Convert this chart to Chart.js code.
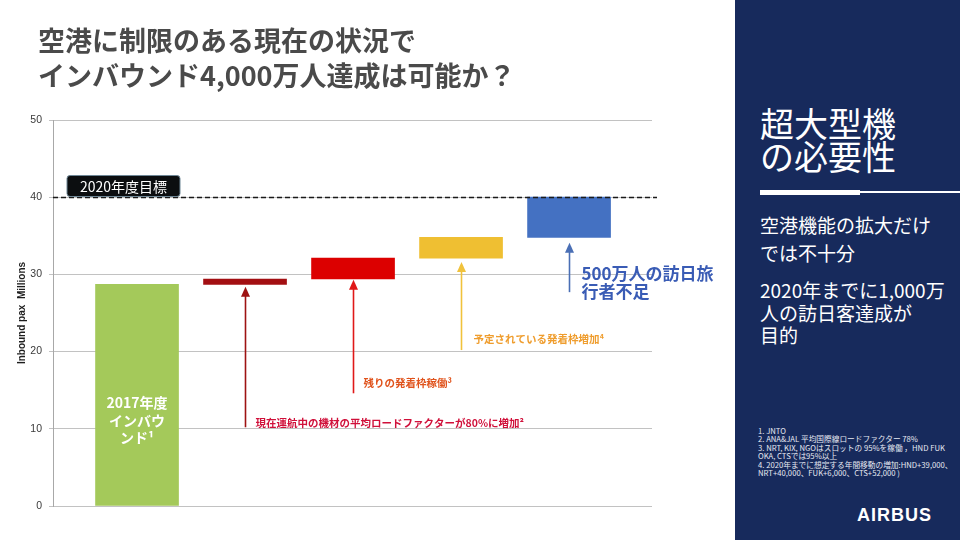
<!DOCTYPE html>
<html>
<head>
<meta charset="utf-8">
<script src="https://cdn.jsdelivr.net/npm/chart.js@4/dist/chart.umd.min.js"></script>
<style>
  html, body { margin: 0; padding: 0; background: #ffffff; }
  #wrap { position: relative; width: 960px; height: 540px; overflow: hidden; font-family: "Noto Sans CJK JP", "Noto Sans", sans-serif; }
  #c { position: absolute; left: 0; top: 0; }
  .title { position: absolute; left: 38px; top: 22px; font-size: 27px; line-height: 35px; color: #4a4a4a; font-weight: bold; white-space: nowrap; }
  .panel { position: absolute; left: 735px; top: 0; width: 225px; height: 540px; background: #172a5c; }
  .ptxt { position: absolute; left: 760px; color: #ffffff; white-space: nowrap; }
  .big { top: 106px; font-size: 34px; line-height: 33px; }
  .mid1 { top: 211px; font-size: 19px; line-height: 28px; }
  .mid2 { top: 279px; font-size: 19px; line-height: 22.5px; }
  .notes { left: 758px; top: 427px; font-size: 7.7px; line-height: 8.4px; color: #e6e9f2; }
  .bar1 { position: absolute; left: 760px; top: 190px; width: 100px; height: 5px; background: #ffffff; }
  .bar2 { position: absolute; left: 860px; top: 191px; width: 100px; height: 2px; background: #ffffff; }
  .logo { position: absolute; left: 857px; top: 505px; font-family: "Liberation Sans", Arial, sans-serif; font-weight: bold; font-size: 18px; letter-spacing: 1px; color: #ffffff; }
</style>
</head>
<body>
<div id="wrap">
  <canvas id="c" width="960" height="540"></canvas>
  <div class="title">空港に制限のある現在の状況で<br>インバウンド4,000万人達成は可能か？</div>
  <div class="panel"></div>
  <div class="ptxt big">超大型機<br>の必要性</div>
  <div class="bar1"></div><div class="bar2"></div>
  <div class="ptxt mid1">空港機能の拡大だけ<br>では不十分</div>
  <div class="ptxt mid2">2020年までに1,000万<br>人の訪日客達成が<br>目的</div>
  <div class="ptxt notes">1. JNTO<br>2. ANA&amp;JAL 平均国際線ロードファクター 78%<br>3. NRT, KIX, NGOはスロットの 95%を稼働 ，HND FUK<br>OKA, CTSでは95%以上<br>4. 2020年までに想定する年間移動の増加:HND+39,000、<br>NRT+40,000、FUK+6,000、CTS+52,000 )</div>
  <div class="logo">AIRBUS</div>
</div>
<script>
// ---- data ----
const categories = ['2017年度インバウンド', 'ロードファクター80%', '残りの発着枠稼働', '予定されている発着枠増加', '訪日旅行者不足'];
const barBase = [0, 28.7, 29.4, 32.1, 34.8];
const barTop = [28.7, 29.4, 32.1, 34.8, 40];
const targetValue = 40;
const targetLabel = '2020年度目標';
const arrowFrom = [10.2, 14.6, 20.2, 27.7];
const arrowTo = [28.4, 29.3, 31.6, 34.1];
const yTickValues = [0, 10, 20, 30, 40, 50];
const barLabelLines = ['2017年度', 'インバウ', 'ンド¹'];
const arrowLabels = [
  ['現在運航中の機材の平均ロードファクターが80%に増加²'],
  ['残りの発着枠稼働³'],
  ['予定されている発着枠増加⁴'],
  ['500万人の訪日旅', '行者不足']
];

// ---- styles ----
const barColors = ['#a4c95a', '#a30f12', '#dc0000', '#efbf32', '#4471c2'];
const arrowColors = ['#9e1212', '#e01818', '#f0c23c', '#4a6fb5'];
const labelStyles = [
  { color: '#d0103a', font: 'bold 10.5px "Noto Sans CJK JP"', dx: 10, dy: [-4] },
  { color: '#e0531c', font: 'bold 10.5px "Noto Sans CJK JP"', dx: 10, dy: [-10] },
  { color: '#ef9d2e', font: 'bold 10.5px "Noto Sans CJK JP"', dx: 12, dy: [-11] },
  { color: '#3a5cb5', font: 'bold 17px "Noto Sans CJK JP"', dx: 12, dy: [-19, -1] }
];

const annot = {
  id: 'annot',
  afterDatasetsDraw(chart) {
    const { ctx, chartArea: ca, scales: { x, y } } = chart;
    ctx.save();
    // target dashed line
    const ty = Math.round(y.getPixelForValue(targetValue)) + 0.5;
    ctx.strokeStyle = '#1a1a1a';
    ctx.lineWidth = 1.5;
    ctx.setLineDash([5, 3]);
    ctx.beginPath();
    ctx.moveTo(ca.left, ty);
    ctx.lineTo(ca.right + 5, ty);
    ctx.stroke();
    ctx.setLineDash([]);
    // target label box
    const bx = ca.left + 14, bw = 113, bh = 21, by = ty - bh - 1;
    ctx.beginPath();
    ctx.roundRect(bx, by, bw, bh, 3);
    ctx.fillStyle = '#0c0e10';
    ctx.fill();
    ctx.lineWidth = 1;
    ctx.strokeStyle = '#6f8796';
    ctx.stroke();
    ctx.fillStyle = '#ffffff';
    ctx.font = '14px "Noto Sans CJK JP"';
    ctx.textAlign = 'center';
    ctx.textBaseline = 'middle';
    ctx.fillText(targetLabel, bx + bw / 2, by + bh / 2 + 0.5);

    // text inside first bar
    const cx0 = x.getPixelForValue(1);
    const cy0 = y.getPixelForValue(11);
    ctx.font = 'bold 14px "Noto Sans CJK JP"';
    ctx.fillStyle = '#ffffff';
    const offs = [-18, 0, 17];
    barLabelLines.forEach((t, i) => ctx.fillText(t, cx0, cy0 + offs[i]));

    // arrows
    arrowFrom.forEach((v, i) => {
      const ax = Math.round(x.getPixelForValue(i + 2)) + 0.5;
      const y0 = y.getPixelForValue(v);
      const y1 = y.getPixelForValue(arrowTo[i]);
      ctx.strokeStyle = arrowColors[i];
      ctx.fillStyle = arrowColors[i];
      ctx.lineWidth = 1.6;
      ctx.beginPath();
      ctx.moveTo(ax, y0);
      ctx.lineTo(ax, y1 + 8);
      ctx.stroke();
      ctx.beginPath();
      ctx.moveTo(ax, y1);
      ctx.lineTo(ax - 4.5, y1 + 10);
      ctx.lineTo(ax + 4.5, y1 + 10);
      ctx.closePath();
      ctx.fill();
      const st = labelStyles[i];
      ctx.font = st.font;
      ctx.fillStyle = st.color;
      ctx.textAlign = 'left';
      ctx.textBaseline = 'middle';
      arrowLabels[i].forEach((t, k) => ctx.fillText(t, ax + st.dx, y0 + st.dy[k]));
    });
    ctx.restore();
  }
};

new Chart(document.getElementById('c'), {
  type: 'bar',
  data: {
    labels: categories,
    datasets: [{
      data: categories.map((c, i) => ({ x: i + 1, y: [barBase[i], barTop[i]] })),
      backgroundColor: barColors,
      borderWidth: 0,
      barThickness: 83
    }]
  },
  options: {
    responsive: false,
    animation: false,
    events: [],
    layout: { padding: { left: 16, top: 120, right: 308, bottom: 34 } },
    plugins: { legend: { display: false }, tooltip: { enabled: false } },
    scales: {
      x: { type: 'linear', min: 0.222, max: 5.768, offset: false, display: false },
      y: {
        min: 0, max: 50,
        afterBuildTicks(s) { s.ticks = yTickValues.map(v => ({ value: v })); },
        afterFit(s) { s.width = 37; },
        ticks: { color: '#3a3a3a', padding: 7, font: { family: '"Liberation Sans", Arial', size: 10.5 } },
        grid: { color: '#c2c2c2', lineWidth: 1, tickLength: 4 },
        border: { color: '#a8a8a8', width: 1 },
        title: { display: true, text: 'Inbound pax  Millions', color: '#1e1e1e', padding: { top: 0, bottom: 4 }, font: { family: '"Liberation Sans", Arial', size: 10, weight: 'bold' } }
      }
    }
  },
  plugins: [annot]
});
</script>
</body>
</html>
